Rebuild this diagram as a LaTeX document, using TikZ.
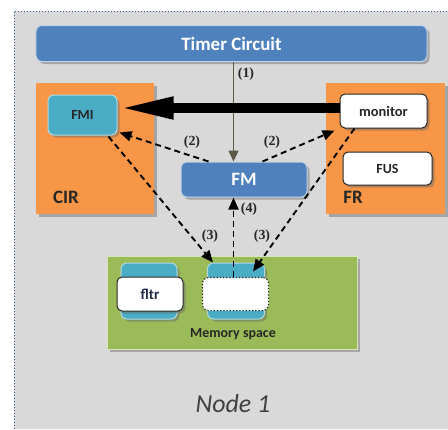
\documentclass[tikz,border=0pt]{standalone}
\usepackage{fontspec}
\setmainfont{Carlito}
\newfontfamily\lblfont{Liberation Serif}
\usetikzlibrary{arrows.meta,shadows,calc}

\definecolor{bggray}{HTML}{D9D9D9}
\definecolor{edgeblue}{HTML}{3A5A8C}
\definecolor{ofcblue}{HTML}{4F81BD}
\definecolor{ofcorange}{HTML}{F79646}
\definecolor{ofcgreen}{HTML}{9BBB59}
\definecolor{ofccyan}{HTML}{4BACC6}
\definecolor{timerline}{HTML}{5E5848}
\definecolor{txtdark}{HTML}{262626}
\definecolor{navytxt}{HTML}{1F2A44}
\definecolor{titlegray}{HTML}{404040}

\tikzset{
  shade3/.style={drop shadow={shadow xshift=2.5bp,shadow yshift=-2.5bp,opacity=.45,fill=black!60}},
  box/.style={rectangle,inner sep=0pt,font=\bfseries},
  bluebox/.style={box,fill=ofcblue,draw=ofcblue!35,line width=1bp,rounded corners=6bp,text=white,shade3,font=\fontsize{19}{19}\selectfont\bfseries},
  regionbox/.style={box,fill=ofcorange,shade3},
  cyanbox/.style={box,fill=ofccyan,draw=ofccyan!45,line width=1bp,rounded corners=6bp,shade3},
  whitebox/.style={box,fill=white,draw=black!85,line width=1bp,rounded corners=5bp,text=txtdark,shade3,font=\fontsize{14.5}{14.5}\selectfont\bfseries},
  memwhite/.style={box,fill=white,draw=black!85,line width=1.2bp,dotted,rounded corners=6bp},
  regiontitle/.style={font=\fontsize{19}{19}\selectfont\bfseries,text=txtdark,inner sep=0pt},
  stepnum/.style={font=\lblfont\fontsize{14}{14}\selectfont\bfseries,text=txtdark,inner sep=0pt},
  dashlink/.style={draw=black,line width=1.9bp,dash pattern=on 6bp off 4bp,-{Triangle[length=12bp,width=10bp]}},
}

\begin{document}
\begin{tikzpicture}[x=1bp,y=-1bp]
\useasboundingbox (0,0) rectangle (448,429);

% background panel with dotted frame
\fill[bggray] (14,11) rectangle (448,429);
\draw[edgeblue,line width=1bp,dotted] (14,429) -- (14,11) -- (448,11);

% column through which the vertical links run
\coordinate (axis) at (233.5,0);
\coordinate (thick) at (0,108);

% top-level blocks
\node[bluebox,minimum width=391bp,minimum height=36bp] (timer) at (231.5,43.5) {Timer Circuit};
\node[regionbox,minimum width=118bp,minimum height=131bp] (cir) at (95,148.5) {};
\node[regionbox,minimum width=119bp,minimum height=131bp] (fr) at (385.5,148.5) {};
\node[regiontitle] (cirt) at (66,197) {CIR};
\node[regiontitle] (frt) at (353,197) {FR};

\node[cyanbox,minimum width=69bp,minimum height=40bp,text=txtdark,font=\fontsize{14}{14}\selectfont\bfseries] (fmi) at (82.5,115) {\raisebox{-3bp}{FMI}};
\node[whitebox,minimum width=87bp,minimum height=34bp] (monitor) at (383.5,111) {monitor};
\node[whitebox,minimum width=89bp,minimum height=33bp,font=\fontsize{14}{14}\selectfont\bfseries] (fus) at (387.5,168.5) {FUS};
\node[bluebox,minimum width=126bp,minimum height=35bp] (fm) at (244,179.5) {FM};

% memory space
\node[box,fill=ofcgreen,draw=ofcgreen!40,line width=.8bp,minimum width=250bp,minimum height=93bp,shade3] (mem) at (232.5,302.5) {};
\node[cyanbox,minimum width=56bp,minimum height=56bp] (fltrback) at (149,291) {};
\node[whitebox,minimum width=66bp,minimum height=34bp,text=navytxt,font=\fontsize{15}{15}\selectfont\bfseries] (fltr) at (150,294) {fltr};
\node[cyanbox,minimum width=57bp,minimum height=56bp] (memback) at (236,291) {};
\node[memwhite,minimum width=66bp,minimum height=33bp] (memfront) at (235.5,294) {};
\node[font=\fontsize{14}{14}\selectfont\bfseries,text=txtdark,inner sep=0pt] (memt) at (233,334) {Memory space};

\node[font=\fontsize{26}{26}\selectfont\itshape,text=titlegray,inner sep=0pt] (title) at (233,404) {Node 1};

% links
\draw[timerline,line width=1.3bp,-{Triangle[length=11bp,width=10bp]}] (timer.south -| axis) -- (fm.north -| axis);
\draw[line width=10bp,-{Triangle[length=56bp,width=20bp]}] (monitor.west |- thick) -- (fmi.east |- thick);
\draw[dashlink] ($(fm.north west)+(28,0)$) -- ($(fmi.south east)+(2,-3)$);
\draw[dashlink] ($(fm.north east)+(-45,0)$) -- ($(monitor.south west)+(-5,2)$);
\draw[dashlink] ($(fmi.south east)+(-9,1)$) -- ($(memback.north west)+(6,0)$);
\draw[dashlink] ($(monitor.south west)+(15,0)$) -- ($(memback.north east)+(-12,9)$);
\draw[dashlink] (memfront.north -| axis) -- (fm.south -| axis);

% step labels
\node[stepnum] (l1) at (246,74) {(1)};
\node[stepnum] (l2a) at (192,142) {(2)};
\node[stepnum] (l2b) at (272,142) {(2)};
\node[stepnum] (l3a) at (210,236) {(3)};
\node[stepnum] (l3b) at (262,236) {(3)};
\node[stepnum] (l4) at (249,209) {(4)};
\end{tikzpicture}
\end{document}
